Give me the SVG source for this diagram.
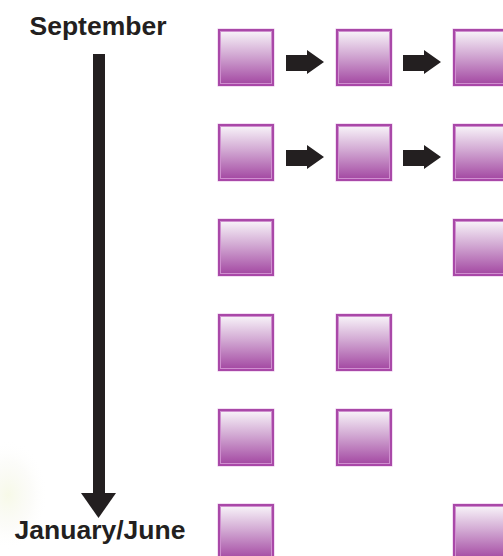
<svg xmlns="http://www.w3.org/2000/svg" width="503" height="556" viewBox="0 0 503 556">
  <defs>
    <linearGradient id="boxFill" x1="0" y1="0" x2="0" y2="1">
      <stop offset="0" stop-color="#f6f0f7"/>
      <stop offset="0.45" stop-color="#d2a9d3"/>
      <stop offset="1" stop-color="#a54ca4"/>
    </linearGradient>
    <radialGradient id="glow" cx="0.5" cy="0.5" r="0.5">
      <stop offset="0" stop-color="#f5f8e2" stop-opacity="0.8"/>
      <stop offset="0.6" stop-color="#f6f6ee" stop-opacity="0.35"/>
      <stop offset="1" stop-color="#ffffff" stop-opacity="0"/>
    </radialGradient>
    <g id="box">
      <rect x="-0.5" y="-0.5" width="57" height="58" fill="#e7bde7"/>
      <rect x="0" y="0" width="56" height="57" fill="#a948a8"/>
      <rect x="2" y="2" width="52" height="53" fill="#cf8fcf"/>
      <rect x="3" y="3" width="50" height="51" fill="url(#boxFill)"/>
    </g>
    <polygon id="step" points="0,5 21,5 21,0 38,12 21,24 21,21 0,21"/>
  </defs>
  <style>
    .label { font-family: "Liberation Sans", Arial, sans-serif; font-weight: bold; font-size: 26.5px; fill: #231f20; text-anchor: middle; }
    .dark { fill: #231f20; }
  </style>

  <rect width="503" height="556" fill="#ffffff"/>
  <!-- soft glow at lower left -->
  <ellipse cx="8" cy="495" rx="40" ry="55" fill="url(#glow)"/>

  <!-- timeline -->
  <g id="timeline">
    <text class="label" x="98" y="35">September</text>
    <rect class="dark" x="93" y="54" width="12" height="441"/>
    <polygon class="dark" points="81,493 116,493 98.5,518"/>
    <text class="label" x="100" y="539">January/June</text>
  </g>

  <!-- row 1 -->
  <g id="r1c1"><use href="#box" x="218" y="29"/></g>
  <g id="r1c2"><use href="#box" x="336" y="29"/></g>
  <g id="r1c3"><use href="#box" x="453" y="29"/></g>
  <!-- row 2 -->
  <g id="r2c1"><use href="#box" x="218" y="124"/></g>
  <g id="r2c2"><use href="#box" x="336" y="124"/></g>
  <g id="r2c3"><use href="#box" x="453" y="124"/></g>
  <!-- row 3 -->
  <g id="r3c1"><use href="#box" x="218" y="219"/></g>
  <g id="r3c3"><use href="#box" x="453" y="219"/></g>
  <!-- row 4 -->
  <g id="r4c1"><use href="#box" x="218" y="314"/></g>
  <g id="r4c2"><use href="#box" x="336" y="314"/></g>
  <!-- row 5 -->
  <g id="r5c1"><use href="#box" x="218" y="409"/></g>
  <g id="r5c2"><use href="#box" x="336" y="409"/></g>
  <!-- row 6 -->
  <g id="r6c1"><use href="#box" x="218" y="504"/></g>
  <g id="r6c3"><use href="#box" x="453" y="504"/></g>

  <!-- connectors -->
  <g id="connectors" class="dark">
    <use href="#step" x="286" y="50"/>
    <use href="#step" x="403" y="50"/>
    <use href="#step" x="286" y="145"/>
    <use href="#step" x="403" y="145"/>
  </g>
</svg>
